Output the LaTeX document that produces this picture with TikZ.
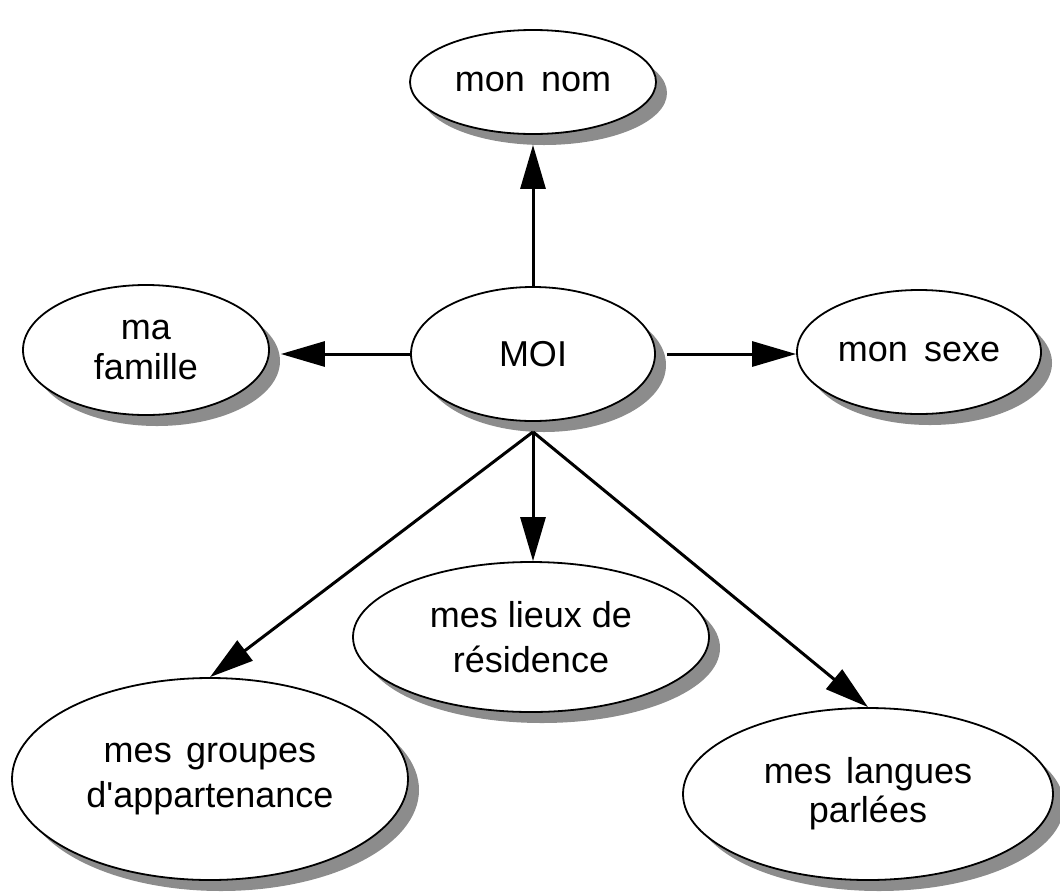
\documentclass[tikz,border=0pt]{standalone}
\usepackage{fontspec}
\setmainfont{Liberation Sans}
\usetikzlibrary{shapes.geometric,arrows.meta,calc}
\definecolor{shadowgrey}{HTML}{8C8C8C}
\begin{document}
\begin{tikzpicture}[x=1pt,y=-1pt,
  bubble/.style={ellipse, draw=black, line width=1.8pt, fill=white, inner sep=0pt,
    align=center, font=\fontsize{36}{43}\selectfont},
  link/.style={line width=3pt, -{Triangle[length=44pt,width=25pt]}}]
\useasboundingbox (0,0) rectangle (1060,892);
\begin{scope}[shadowgrey]
\fill (544,93) ellipse [x radius=123, y radius=52];
\fill (544,365) ellipse [x radius=122, y radius=67];
\fill (157,361) ellipse [x radius=123, y radius=65];
\fill (930,363) ellipse [x radius=122, y radius=62];
\fill (542,648) ellipse [x radius=178, y radius=75];
\fill (221,790) ellipse [x radius=198, y radius=101];
\fill (879,805) ellipse [x radius=185, y radius=86];
\end{scope}
\node[bubble, minimum width=246pt, minimum height=104pt] (nom) at (533,82) {mon\hspace{0.45em}nom};
\node[bubble, minimum width=244pt, minimum height=134pt] (moi) at (533,354) {MOI};
\node[bubble, minimum width=246pt, minimum height=130pt, font=\fontsize{36}{40}\selectfont] (famille) at (146,350) {ma\\famille};
\node[bubble, minimum width=244pt, minimum height=124pt] (sexe) at (919,352) {mon\hspace{0.45em}sexe};
\node[bubble, minimum width=356pt, minimum height=150pt, font=\fontsize{36}{45}\selectfont] (lieux) at (531,637) {mes lieux de\\résidence};
\node[bubble, minimum width=396pt, minimum height=202pt, font=\fontsize{36}{45}\selectfont] (groupes) at (210,779) {mes\hspace{0.4em}groupes\\d\textquotesingle appartenance};
\node[bubble, minimum width=370pt, minimum height=172pt, font=\fontsize{36}{39}\selectfont] (langues) at (868,794) {mes\hspace{0.4em}langues\\parlées};
\coordinate (moibot) at ($(moi.south)+(0,10)$);
\draw[link] (moi.north) -- ($(nom.south)+(0,10)$);
\draw[link] (moi.west) -- ($(moi.west -| famille.east)+(11,0)$);
\draw[link] ($(moi.east)+(11,0)$) -- (moi.east -| sexe.west);
\draw[link] (moibot) -- (moibot |- lieux.north);
\draw[link] (moibot) -- (groupes.north);
\draw[link] (moibot) -- (langues.north);
\end{tikzpicture}
\end{document}
